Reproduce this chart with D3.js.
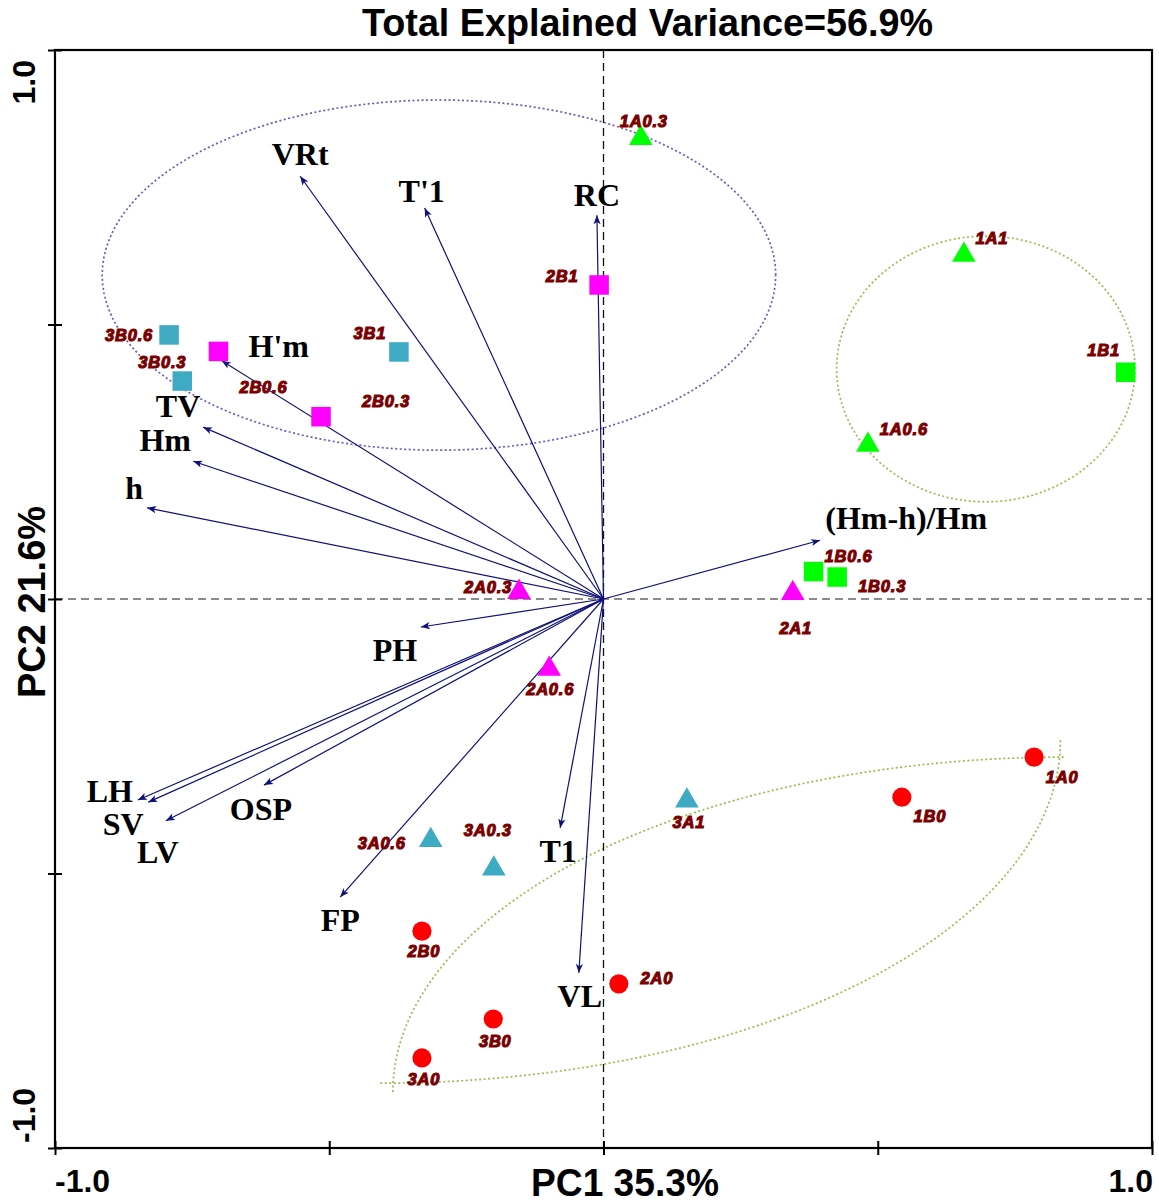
<!DOCTYPE html>
<html>
<head>
<meta charset="utf-8">
<script src="https://cdn.jsdelivr.net/npm/d3@7/dist/d3.min.js"></script>
<style>
body { margin: 0; background: #fff; }
</style>
</head>
<body>
<svg id="chart" width="1159" height="1204"></svg>
<script>
// sample scores
var sampleNames = ["1A0.3", "2B1", "1A1", "1B1", "1A0.6", "3B0.6", "3B0.3", "2B0.6", "3B1", "2B0.3",
    "2A0.3", "2A0.6", "2A1", "1B0.6", "1B0.3", "1A0", "1B0", "3A1", "3A0.6", "3A0.3",
    "2B0", "2A0", "3B0", "3A0"]
var samplePC1 = [0.068, -0.008, 0.657, 0.952, 0.482, -0.792, -0.768, -0.702, -0.373, -0.515,
    -0.154, -0.099, 0.345, 0.383, 0.426, 0.785, 0.544, 0.152, -0.315, -0.200,
    -0.331, 0.028, -0.201, -0.331]
var samplePC2 = [0.845, 0.572, 0.632, 0.413, 0.286, 0.481, 0.397, 0.451, 0.450, 0.332,
    0.018, -0.122, 0.016, 0.050, 0.040, -0.288, -0.361, -0.362, -0.434, -0.486,
    -0.605, -0.701, -0.765, -0.836]

// variable loadings
var varNames = ["VRt", "T'1", "RC", "H'm", "TV", "Hm", "h", "(Hm-h)/Hm", "PH",
    "LH", "SV", "LV", "OSP", "FP", "T1", "VL"]
var varPC1 = [-0.553, -0.326, -0.012, -0.696, -0.730, -0.748, -0.832, 0.395, -0.333,
    -0.849, -0.830, -0.798, -0.619, -0.480, -0.079, -0.045]
var varPC2 = [0.770, 0.712, 0.699, 0.434, 0.313, 0.251, 0.166, 0.107, -0.051,
    -0.366, -0.370, -0.404, -0.339, -0.543, -0.417, -0.681]

var titleText = "Total Explained Variance=56.9%"
var xTitle = "PC1 35.3%"
var yTitle = "PC2 21.6%"
var tickValues = [-1, -0.5, 0, 0.5, 1]
var tickLabels = ["-1.0", "1.0"]

// group outlines: [cx, cy, rx, ry] in PC units
var groupEllipse = [-0.300, 0.590, 0.614, 0.319]
var groupCircle = [0.697, 0.419, 0.272, 0.242]
var lensUpper = [0.841, -0.898, 1.225, 0.610]
var lensLower = [-0.407, -0.257, 1.240, 0.625]

// label placement (px from point / arrow tip: dx, baseline dy)
var sampleLabelOffset = {
    "1A0.3": [3, -8], "2B1": [-37, -3], "1A1": [28, -8], "1B1": [-22, -16], "1A0.6": [36, -7],
    "3B0.6": [-40, 6], "3B0.3": [-20, -13], "2B0.6": [45, 42], "3B1": [-29, -13], "2B0.3": [65, -10],
    "2A0.3": [-31, 4], "2A0.6": [1, 29], "2A1": [3, 44], "1B0.6": [35, -10], "1B0.3": [45, 15],
    "1A0": [28, 26], "1B0": [28, 25], "3A1": [2, 30], "3A0.6": [-49, 12], "3A0.3": [-6, -30],
    "2B0": [2, 26], "2A0": [38, 0], "3B0": [2, 28], "3A0": [2, 27]
}
var varLabelOffset = {
    "VRt": [0, -11], "T'1": [-3, -6], "RC": [0, -9], "H'm": [57, -4], "TV": [-25, -10],
    "Hm": [-28, -10], "h": [-13, -9], "(Hm-h)/Hm": [86, -11], "PH": [-26, 34],
    "LH": [-28, 2], "SV": [-25, 33], "LV": [-8, 42], "OSP": [-3, 35], "FP": [0, 34],
    "T1": [-2, 34], "VL": [1, 34]
}

var groupColor = { "1": "#00ff00", "2": "#ff00ff", "3": "#3eaac4" }

var svg = d3.select("#chart")
var x = d3.scaleLinear().domain([-1, 1]).range([55, 1152])
var y = d3.scaleLinear().domain([-1, 1]).range([1148, 50])

var samples = sampleNames.map(function(n, i) {
    return { name: n, pc1: samplePC1[i], pc2: samplePC2[i] }
})
var vars = varNames.map(function(n, i) {
    return { name: n, pc1: varPC1[i], pc2: varPC2[i] }
})

function shapeOf(name) {
    if (/^\d[AB]0$/.test(name)) return "circle"
    return name.charAt(1) == "A" ? "triangle" : "square"
}
function colorOf(name) {
    if (shapeOf(name) == "circle") return "#ff0000"
    return groupColor[name.charAt(0)]
}

// outlines
function ellipsePoints(e, a0, a1) {
    var pts = []
    for (var k = 0; k <= 120; k++) {
        var t = (a0 + (a1 - a0) * k / 120) * Math.PI / 180
        pts.push([x(e[0] + e[2] * Math.cos(t)), y(e[1] + e[3] * Math.sin(t))])
    }
    return pts
}
var line = d3.line()
svg.append("path").attr("d", line(ellipsePoints(groupEllipse, 0, 360)))
    .attr("fill", "none").attr("stroke", "#7258b4").attr("stroke-width", 1.7)
    .attr("stroke-dasharray", "2,2.5")
svg.append("path").attr("d", line(ellipsePoints(groupCircle, 0, 360)))
    .attr("fill", "none").attr("stroke", "#98bc52").attr("stroke-width", 1.7)
    .attr("stroke-dasharray", "2,2.5")
svg.append("path").attr("d", line(ellipsePoints(lensUpper, 180, 90)))
    .attr("fill", "none").attr("stroke", "#98bc52").attr("stroke-width", 1.7)
    .attr("stroke-dasharray", "2,2.5")
svg.append("path").attr("d", line(ellipsePoints(lensLower, 270, 360)))
    .attr("fill", "none").attr("stroke", "#98bc52").attr("stroke-width", 1.7)
    .attr("stroke-dasharray", "2,2.5")

// zero lines
svg.append("line").attr("x1", x(-1)).attr("x2", x(1)).attr("y1", y(0)).attr("y2", y(0))
    .attr("stroke", "#666").attr("stroke-width", 1.3).attr("stroke-dasharray", "8,5")
svg.append("line").attr("x1", x(0)).attr("x2", x(0)).attr("y1", y(1)).attr("y2", y(-1))
    .attr("stroke", "#111").attr("stroke-width", 1.3).attr("stroke-dasharray", "8,5")

// frame + axes
svg.append("rect").attr("x", x(-1)).attr("y", y(1))
    .attr("width", x(1) - x(-1)).attr("height", y(-1) - y(1))
    .attr("fill", "none").attr("stroke", "#000").attr("stroke-width", 2.2)

var xAxis = d3.axisBottom(x).tickValues(tickValues).tickSize(7).tickFormat("")
var gx = svg.append("g").attr("transform", "translate(0," + y(-1) + ")").call(xAxis)
gx.select(".domain").remove()
gx.selectAll(".tick line").attr("y1", -7).attr("stroke-width", 2)

var yAxis = d3.axisLeft(y).tickValues(tickValues).tickSize(7).tickFormat("")
var gy = svg.append("g").attr("transform", "translate(" + x(-1) + ",0)").call(yAxis)
gy.select(".domain").remove()
gy.selectAll(".tick line").attr("x1", 7).attr("stroke-width", 2)

svg.append("text").attr("x", x(-1)).attr("y", 1192)
    .style("font", "bold 32px 'Liberation Sans', Arial, sans-serif").text(tickLabels[0])
svg.append("text").attr("x", x(1) + 1).attr("y", 1192).attr("text-anchor", "end")
    .style("font", "bold 32px 'Liberation Sans', Arial, sans-serif").text(tickLabels[1])
svg.append("text").attr("transform", "translate(35," + (y(-1) - 5) + ") rotate(-90)")
    .style("font", "bold 32px 'Liberation Sans', Arial, sans-serif").text(tickLabels[0])
svg.append("text").attr("transform", "translate(35," + (y(1) + 10) + ") rotate(-90)")
    .attr("text-anchor", "end")
    .style("font", "bold 32px 'Liberation Sans', Arial, sans-serif").text(tickLabels[1])

svg.append("text").attr("x", 362).attr("y", 36).attr("textLength", 571)
    .attr("lengthAdjust", "spacingAndGlyphs")
    .style("font", "bold 38px 'Liberation Sans', Arial, sans-serif").text(titleText)
svg.append("text").attr("x", 531).attr("y", 1196).attr("textLength", 188)
    .attr("lengthAdjust", "spacingAndGlyphs")
    .style("font", "bold 38px 'Liberation Sans', Arial, sans-serif").text(xTitle)
svg.append("text").attr("transform", "translate(45,698) rotate(-90)").attr("textLength", 192)
    .attr("lengthAdjust", "spacingAndGlyphs")
    .style("font", "bold 38px 'Liberation Sans', Arial, sans-serif").text(yTitle)

// loading arrows
svg.append("defs").append("marker")
    .attr("id", "head").attr("viewBox", "0 0 10 10")
    .attr("refX", 10).attr("refY", 5)
    .attr("markerWidth", 10).attr("markerHeight", 9)
    .attr("markerUnits", "userSpaceOnUse")
    .attr("orient", "auto")
    .append("path").attr("d", "M0,1 L10,5 L0,9 L2.5,5 Z").attr("fill", "#10107a")

svg.append("g").selectAll("line")
    .data(vars)
    .enter()
    .append("line")
    .attr("x1", x(0)).attr("y1", y(0))
    .attr("x2", function(d) { return x(d.pc1) })
    .attr("y2", function(d) { return y(d.pc2) })
    .attr("stroke", "#10107a")
    .attr("stroke-width", 1.2)
    .attr("marker-end", "url(#head)")

svg.append("g").selectAll("text")
    .data(vars)
    .enter()
    .append("text")
    .attr("x", function(d) { return x(d.pc1) + varLabelOffset[d.name][0] })
    .attr("y", function(d) { return y(d.pc2) + varLabelOffset[d.name][1] })
    .attr("text-anchor", "middle")
    .style("font", "bold 32px 'Liberation Serif', 'Times New Roman', serif")
    .text(function(d) { return d.name })

// sample markers
var pts = svg.append("g").selectAll("g")
    .data(samples)
    .enter()
    .append("g")
    .attr("transform", function(d) {
        return "translate(" + x(d.pc1) + "," + y(d.pc2) + ")"
    })

pts.each(function(d) {
    var el = d3.select(this)
    var s = shapeOf(d.name)
    if (s == "circle") {
        el.append("circle").attr("r", 9.6).attr("fill", colorOf(d.name))
    } else if (s == "square") {
        el.append("rect").attr("x", -9.75).attr("y", -9.75).attr("width", 19.5).attr("height", 19.5)
            .attr("fill", colorOf(d.name))
    } else {
        el.append("path").attr("d", "M0,-10.5 L11.8,9.8 L-11.8,9.8 Z").attr("fill", colorOf(d.name))
    }
})

svg.append("g").selectAll("text")
    .data(samples)
    .enter()
    .append("text")
    .attr("x", function(d) { return x(d.pc1) + sampleLabelOffset[d.name][0] })
    .attr("y", function(d) { return y(d.pc2) + sampleLabelOffset[d.name][1] })
    .attr("text-anchor", "middle")
    .attr("fill", "#7a0000")
    .attr("stroke", "#7a0000")
    .attr("stroke-width", 1.1)
    .style("letter-spacing", "0.8px")
    .style("font", "italic bold 16.5px 'Liberation Sans', Arial, sans-serif")
    .text(function(d) { return d.name })
</script>
</body>
</html>
